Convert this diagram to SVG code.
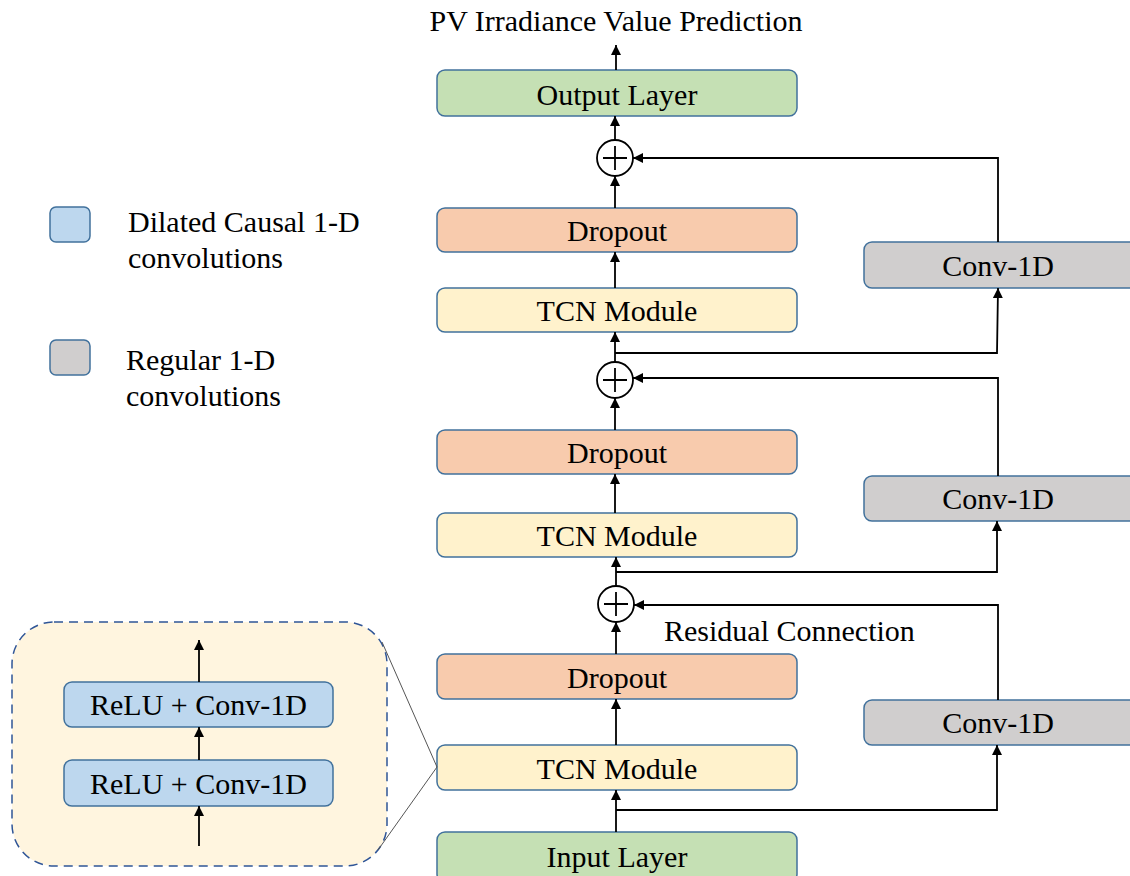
<svg xmlns="http://www.w3.org/2000/svg" width="1130" height="876" viewBox="0 0 1130 876">
<style>
text{font-family:"Liberation Serif","Times New Roman",serif;fill:#000;font-size:30px}
.c{text-anchor:middle}
.box{stroke:#41719C;stroke-width:1.5}
.green{fill:#C5E0B4}.orange{fill:#F8CBAD}.yellow{fill:#FFF2CC}.gray{fill:#D0CECE}.blue{fill:#BDD7EE}
.ln{stroke:#000;stroke-width:1.8;fill:none}
.zm{stroke:#555;stroke-width:1;fill:none}
</style>
<defs>
<marker id="ah" markerWidth="10" markerHeight="10" viewBox="0 0 10 10" refX="10" refY="5" orient="auto" markerUnits="userSpaceOnUse">
<path d="M0,0 L10,5 L0,10 z" fill="#000"/>
</marker>
</defs>
<rect width="1130" height="876" fill="#fff"/>

<text class="c" x="616" y="31">PV Irradiance Value Prediction</text>

<g id="legend">
<rect x="50" y="207" width="40" height="35" rx="6" class="box blue"/>
<text x="128" y="232">Dilated Causal 1-D</text>
<text x="128" y="268">convolutions</text>
<rect x="50" y="340" width="40" height="35" rx="6" class="box gray"/>
<text x="126" y="370">Regular 1-D</text>
<text x="126" y="406">convolutions</text>
</g>

<g id="tcn-detail">
<rect x="12" y="622" width="375" height="244" rx="42" fill="#FFF5DF" stroke="#2F5597" stroke-width="1.5" stroke-dasharray="9,6"/>
<g id="relu2"><rect x="64" y="682" width="269" height="45" rx="8" class="box blue"/><text class="c" x="198.5" y="715">ReLU + Conv-1D</text></g>
<g id="relu1"><rect x="64" y="760" width="269" height="46" rx="8" class="box blue"/><text class="c" x="198.5" y="794">ReLU + Conv-1D</text></g>
</g>

<g id="output"><rect x="437" y="70" width="360" height="46" rx="8" class="box green"/><text class="c" x="617" y="105">Output Layer</text></g>
<g id="dropout1"><rect x="437" y="208" width="360" height="44" rx="8" class="box orange"/><text class="c" x="617" y="241">Dropout</text></g>
<g id="tcn1"><rect x="437" y="288" width="360" height="44" rx="8" class="box yellow"/><text class="c" x="617" y="321">TCN Module</text></g>
<g id="dropout2"><rect x="437" y="430" width="360" height="44" rx="8" class="box orange"/><text class="c" x="617" y="463">Dropout</text></g>
<g id="tcn2"><rect x="437" y="513" width="360" height="44" rx="8" class="box yellow"/><text class="c" x="617" y="546">TCN Module</text></g>
<g id="dropout3"><rect x="437" y="654" width="360" height="45" rx="8" class="box orange"/><text class="c" x="617" y="688">Dropout</text></g>
<g id="tcn3"><rect x="437" y="745" width="360" height="45" rx="8" class="box yellow"/><text class="c" x="617" y="779">TCN Module</text></g>
<g id="input"><rect x="437" y="832" width="360" height="50" rx="8" class="box green"/><text class="c" x="617" y="867">Input Layer</text></g>

<g id="conv1"><rect x="864" y="242" width="275" height="46" rx="8" class="box gray"/><text class="c" x="998" y="276">Conv-1D</text></g>
<g id="conv2"><rect x="864" y="476" width="275" height="45" rx="8" class="box gray"/><text class="c" x="998" y="509">Conv-1D</text></g>
<g id="conv3"><rect x="864" y="700" width="275" height="45" rx="8" class="box gray"/><text class="c" x="998" y="733">Conv-1D</text></g>

<g id="add1"><circle cx="615" cy="158" r="18" fill="#fff" stroke="#000" stroke-width="1.8"/><path d="M603,158 H627 M615,146 V170" class="ln"/></g>
<g id="add2"><circle cx="615" cy="380" r="18" fill="#fff" stroke="#000" stroke-width="1.8"/><path d="M603,380 H627 M615,368 V392" class="ln"/></g>
<g id="add3"><circle cx="616" cy="604" r="18" fill="#fff" stroke="#000" stroke-width="1.8"/><path d="M604,604 H628 M616,592 V616" class="ln"/></g>

<text x="664" y="641">Residual Connection</text>

<g id="connectors">
<line x1="616" y1="70" x2="616" y2="45" class="ln" marker-end="url(#ah)"/>
<line x1="615" y1="140" x2="615" y2="116" class="ln" marker-end="url(#ah)"/>
<line x1="615" y1="208" x2="615" y2="176" class="ln" marker-end="url(#ah)"/>
<line x1="615" y1="288" x2="615" y2="252" class="ln" marker-end="url(#ah)"/>
<line x1="615" y1="362" x2="615" y2="332" class="ln" marker-end="url(#ah)"/>
<line x1="615" y1="430" x2="615" y2="398" class="ln" marker-end="url(#ah)"/>
<line x1="615" y1="513" x2="615" y2="474" class="ln" marker-end="url(#ah)"/>
<line x1="616" y1="586" x2="616" y2="557" class="ln" marker-end="url(#ah)"/>
<line x1="616" y1="654" x2="616" y2="622" class="ln" marker-end="url(#ah)"/>
<line x1="616" y1="745" x2="616" y2="699" class="ln" marker-end="url(#ah)"/>
<line x1="616" y1="832" x2="616" y2="790" class="ln" marker-end="url(#ah)"/>
<polyline points="615,353 997,353 998,288" class="ln" marker-end="url(#ah)"/>
<polyline points="998,242 998,158 633,158" class="ln" marker-end="url(#ah)"/>
<polyline points="616,572 997,572 997,521" class="ln" marker-end="url(#ah)"/>
<polyline points="998,476 998,378 633,378" class="ln" marker-end="url(#ah)"/>
<polyline points="616,810 997,810 997,745" class="ln" marker-end="url(#ah)"/>
<polyline points="998,700 998,605 634,605" class="ln" marker-end="url(#ah)"/>
<line x1="199" y1="846" x2="199" y2="806" class="ln" marker-end="url(#ah)"/>
<line x1="199" y1="760" x2="199" y2="727" class="ln" marker-end="url(#ah)"/>
<line x1="199" y1="682" x2="199" y2="640" class="ln" marker-end="url(#ah)"/>
<line x1="382" y1="642" x2="437" y2="767" class="zm"/>
<line x1="378" y1="850" x2="437" y2="767" class="zm"/>
</g>
</svg>
